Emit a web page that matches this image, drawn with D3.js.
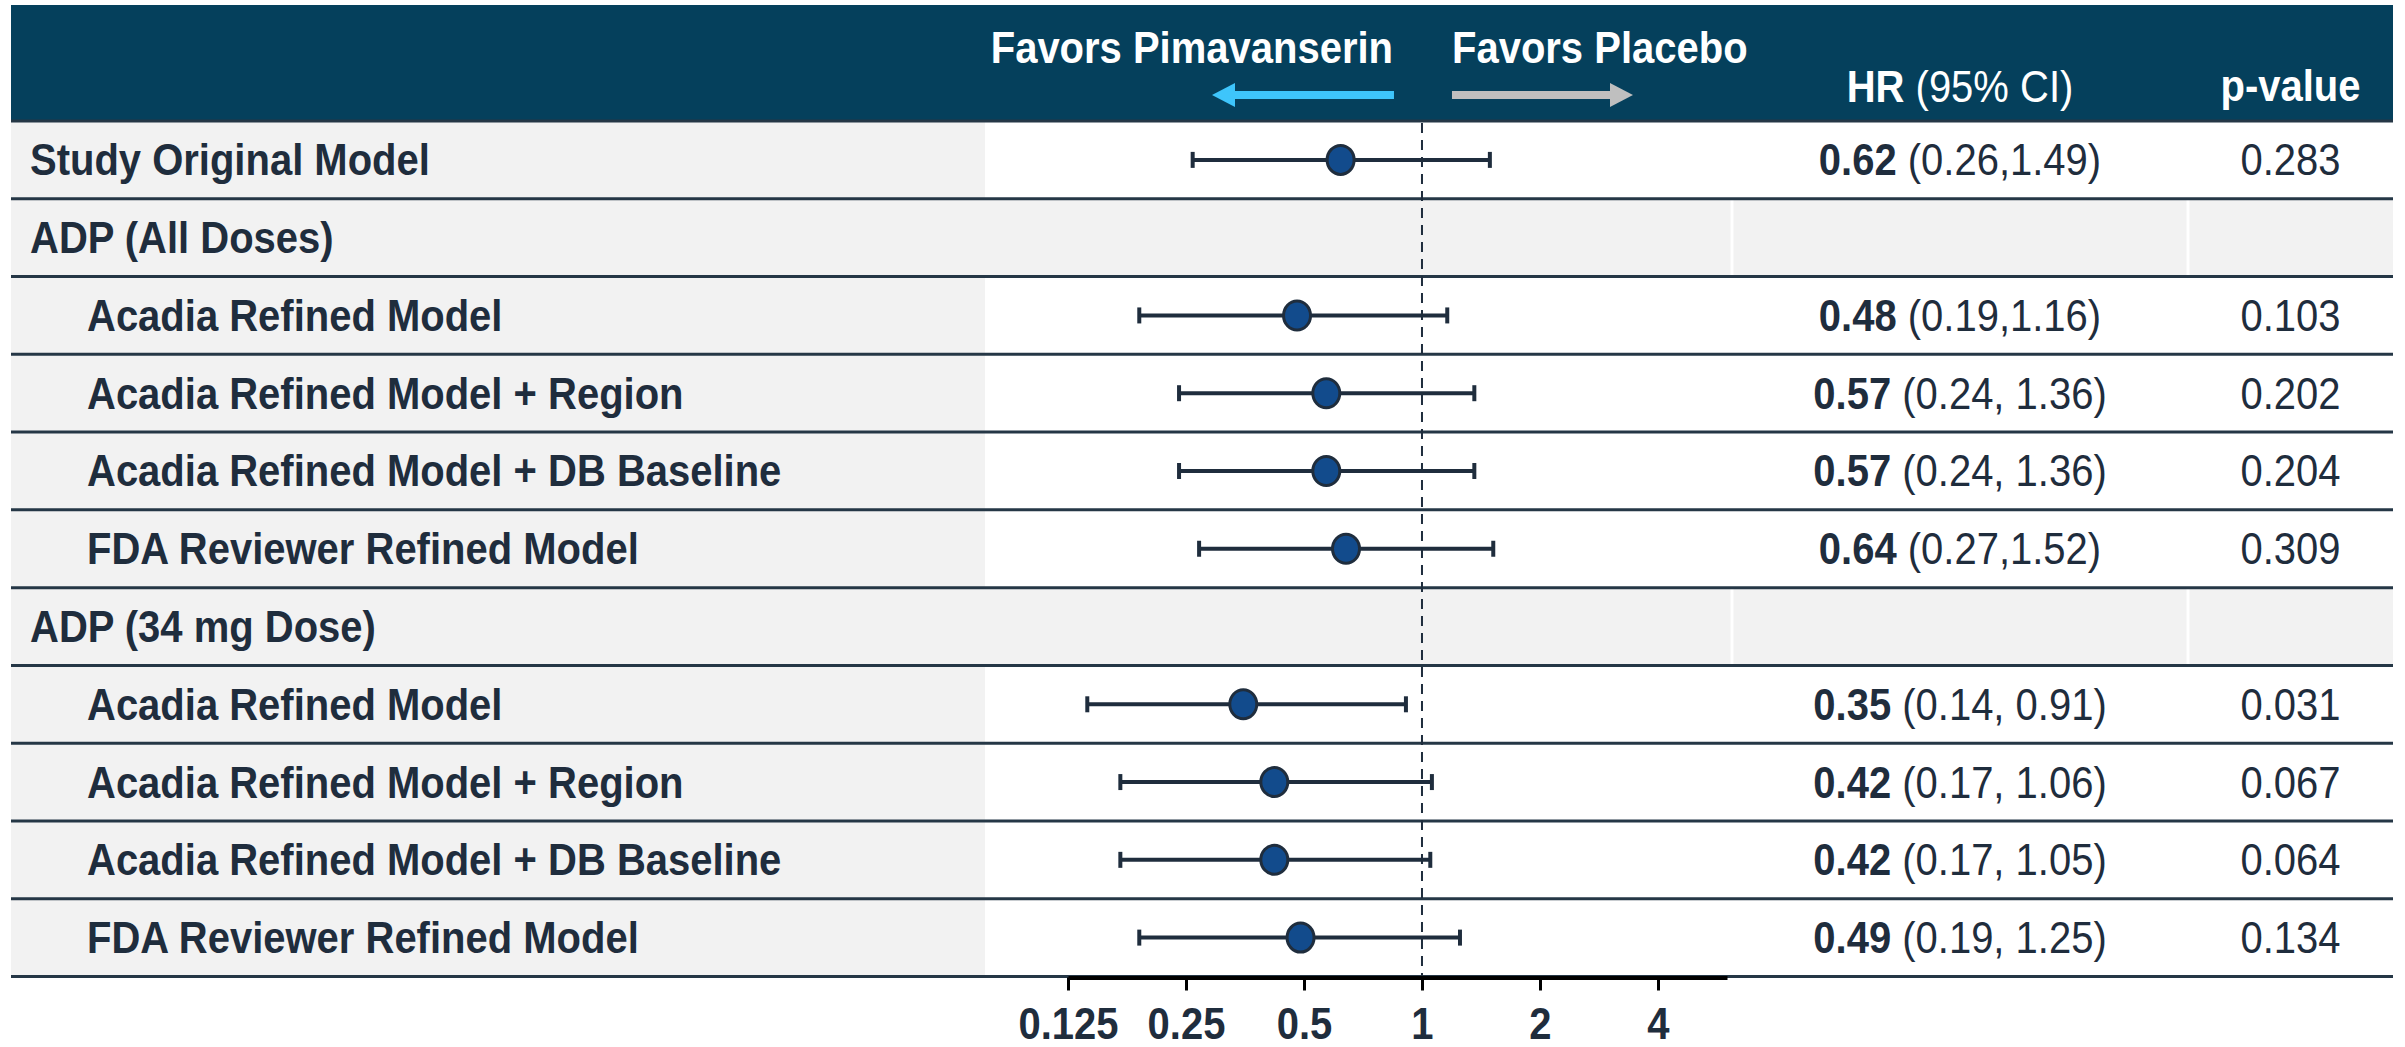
<!DOCTYPE html>
<html>
<head>
<meta charset="utf-8">
<script src="https://cdn.jsdelivr.net/npm/d3@7"></script>
<style>
  html, body { margin: 0; padding: 0; background: #fff; }
  svg { display: block; font-family: "Liberation Sans", Arial, sans-serif; }
</style>
</head>
<body>
<div id="chart"></div>
<script>
// rows of the forest plot, top to bottom
const rowLabels = [
  "Study Original Model",
  "ADP (All Doses)",
  "Acadia Refined Model",
  "Acadia Refined Model + Region",
  "Acadia Refined Model + DB Baseline",
  "FDA Reviewer Refined Model",
  "ADP (34 mg Dose)",
  "Acadia Refined Model",
  "Acadia Refined Model + Region",
  "Acadia Refined Model + DB Baseline",
  "FDA Reviewer Refined Model",
];
// "top" = top-level row, "group" = section header, "sub" = indented model row
const rowKinds = ["top", "group", "sub", "sub", "sub", "sub", "group", "sub", "sub", "sub", "sub"];
const hazardRatios = [0.62, null, 0.48, 0.57, 0.57, 0.64, null, 0.35, 0.42, 0.42, 0.49];
const ciLower = [0.26, null, 0.19, 0.24, 0.24, 0.27, null, 0.14, 0.17, 0.17, 0.19];
const ciUpper = [1.49, null, 1.16, 1.36, 1.36, 1.52, null, 0.91, 1.06, 1.05, 1.25];
const ciLabels = ["(0.26,1.49)", "", "(0.19,1.16)", "(0.24, 1.36)", "(0.24, 1.36)", "(0.27,1.52)", "",
  "(0.14, 0.91)", "(0.17, 1.06)", "(0.17, 1.05)", "(0.19, 1.25)"];
const pValues = ["0.283", "", "0.103", "0.202", "0.204", "0.309", "", "0.031", "0.067", "0.064", "0.134"];
const tickValues = [0.125, 0.25, 0.5, 1, 2, 4];
const tickLabels = ["0.125", "0.25", "0.5", "1", "2", "4"];

const WIDTH = 2405;
const HEIGHT = 1047;
const TEXT = "#1f2d3d";
const HEADER_BG = "#05405c";
const ROW_GRAY = "#f2f2f2";
const LINE = "#253746";
const STRETCH = 1.1; // source text is slightly taller than plain Arial

const cols = { left: 11, plot: 985, hr: 1732, p: 2188, right: 2393 };
const headerTop = 5;
const headerBottom = 121;
const tableBottom = 976.5;

const rows = rowLabels.map((label, i) => ({
  label,
  kind: rowKinds[i],
  hr: hazardRatios[i],
  lo: ciLower[i],
  hi: ciUpper[i],
  ci: ciLabels[i],
  p: pValues[i],
}));

const svg = d3.select("#chart").append("svg")
  .attr("width", WIDTH)
  .attr("height", HEIGHT)
  .attr("viewBox", `0 0 ${WIDTH} ${HEIGHT}`);

function placeText(sel, px, py) {
  return sel.attr("transform", `translate(${px},${py}) scale(1,${STRETCH})`);
}

const y = d3.scaleBand()
  .domain(d3.range(rows.length))
  .range([headerBottom, tableBottom])
  .paddingInner(0)
  .paddingOuter(0);

const x = d3.scaleLog()
  .base(2)
  .domain([0.125, 6])
  .range([1068, 1727]);

// header band
svg.append("rect")
  .attr("x", cols.left)
  .attr("y", headerTop)
  .attr("width", cols.right - cols.left)
  .attr("height", headerBottom - headerTop)
  .attr("fill", HEADER_BG);

// row backgrounds
const rowG = svg.append("g").attr("class", "rows");
rows.forEach((row, i) => {
  const top = y(i);
  const h = y.bandwidth();
  if (row.kind === "group") {
    rowG.append("rect").attr("x", cols.left).attr("y", top).attr("width", cols.right - cols.left).attr("height", h).attr("fill", ROW_GRAY);
    [cols.hr, cols.p].forEach((cx) => {
      rowG.append("line").attr("x1", cx).attr("x2", cx).attr("y1", top).attr("y2", top + h)
        .attr("stroke", "#fff").attr("stroke-width", 3);
    });
  } else {
    rowG.append("rect").attr("x", cols.left).attr("y", top).attr("width", cols.plot - cols.left).attr("height", h).attr("fill", ROW_GRAY);
  }
});

// row separators
svg.append("g")
  .selectAll("line")
  .data(d3.range(rows.length + 1))
  .join("line")
  .attr("x1", cols.left)
  .attr("x2", cols.right)
  .attr("y1", (i) => headerBottom + i * y.bandwidth())
  .attr("y2", (i) => headerBottom + i * y.bandwidth())
  .attr("stroke", LINE)
  .attr("stroke-width", 3);

// reference line at HR = 1
svg.append("line")
  .attr("x1", x(1)).attr("x2", x(1))
  .attr("y1", headerBottom + 2).attr("y2", tableBottom + 12)
  .attr("stroke", TEXT)
  .attr("stroke-width", 2)
  .attr("stroke-dasharray", "10,7");

// axis
const axis = svg.append("g")
  .attr("transform", `translate(0,${tableBottom + 1})`)
  .call(d3.axisBottom(x).tickValues(tickValues).tickFormat((d, i) => tickLabels[i]).tickSize(13).tickSizeOuter(0));
axis.select(".domain").attr("stroke", "#000").attr("stroke-width", 4);
axis.selectAll(".tick line").attr("stroke", "#000").attr("stroke-width", 3);
axis.selectAll(".tick text")
  .attr("fill", TEXT)
  .attr("font-size", 40)
  .attr("font-weight", "bold")
  .attr("font-family", "'Liberation Sans', Arial, sans-serif")
  .attr("dy", null)
  .attr("y", 0)
  .attr("transform", `translate(0,61) scale(1,${STRETCH})`);

// header texts
const headerText = svg.append("g").attr("fill", "#fff").attr("font-size", 40);
placeText(headerText.append("text"), x(1) - 29, 63).attr("text-anchor", "end").attr("font-weight", "bold").text("Favors Pimavanserin");
placeText(headerText.append("text"), x(1) + 30, 63).attr("text-anchor", "start").attr("font-weight", "bold").text("Favors Placebo");
const hrHead = placeText(headerText.append("text"), (cols.hr + cols.p) / 2, 102).attr("text-anchor", "middle");
hrHead.append("tspan").attr("font-weight", "bold").text("HR");
hrHead.append("tspan").text(" (95% CI)");
placeText(headerText.append("text"), (cols.p + cols.right) / 2, 101).attr("text-anchor", "middle").attr("font-weight", "bold").text("p-value");

// direction arrows
const arrowY = 95;
svg.append("line").attr("x1", x(1) - 28).attr("x2", x(1) - 195).attr("y1", arrowY).attr("y2", arrowY)
  .attr("stroke", "#3ec5fb").attr("stroke-width", 8);
svg.append("path")
  .attr("d", `M${x(1) - 210},${arrowY} L${x(1) - 187},${arrowY - 12} L${x(1) - 187},${arrowY + 12} Z`)
  .attr("fill", "#3ec5fb");
svg.append("line").attr("x1", x(1) + 30).attr("x2", x(1) + 195).attr("y1", arrowY).attr("y2", arrowY)
  .attr("stroke", "#bfbfbf").attr("stroke-width", 8);
svg.append("path")
  .attr("d", `M${x(1) + 211},${arrowY} L${x(1) + 188},${arrowY - 12} L${x(1) + 188},${arrowY + 12} Z`)
  .attr("fill", "#bfbfbf");

// row labels and values
const textG = svg.append("g").attr("fill", TEXT).attr("font-size", 40);
rows.forEach((row, i) => {
  const baseY = y(i) + y.bandwidth() / 2 + 15.5;
  placeText(textG.append("text"), row.kind === "sub" ? 87 : 30, baseY)
    .attr("font-weight", "bold")
    .text(row.label);
  if (row.hr == null) return;
  const hrText = placeText(textG.append("text"), (cols.hr + cols.p) / 2, baseY).attr("text-anchor", "middle");
  hrText.append("tspan").attr("font-weight", "bold").text(row.hr.toFixed(2));
  hrText.append("tspan").text(" " + row.ci);
  placeText(textG.append("text"), (cols.p + cols.right) / 2, baseY).attr("text-anchor", "middle").text(row.p);
});

// confidence intervals and point estimates
const marks = svg.append("g");
const estRows = rows.map((row, i) => ({ ...row, i })).filter((row) => row.hr != null);
marks.selectAll("line.ci")
  .data(estRows)
  .join("line")
  .attr("class", "ci")
  .attr("x1", (d) => x(d.lo)).attr("x2", (d) => x(d.hi))
  .attr("y1", (d) => y(d.i) + y.bandwidth() / 2).attr("y2", (d) => y(d.i) + y.bandwidth() / 2)
  .attr("stroke", TEXT).attr("stroke-width", 4);
["lo", "hi"].forEach((key) => {
  marks.selectAll(`line.cap-${key}`)
    .data(estRows)
    .join("line")
    .attr("class", `cap-${key}`)
    .attr("x1", (d) => x(d[key])).attr("x2", (d) => x(d[key]))
    .attr("y1", (d) => y(d.i) + y.bandwidth() / 2 - 8).attr("y2", (d) => y(d.i) + y.bandwidth() / 2 + 8)
    .attr("stroke", TEXT).attr("stroke-width", 4);
});
marks.selectAll("ellipse")
  .data(estRows)
  .join("ellipse")
  .attr("cx", (d) => x(d.hr))
  .attr("cy", (d) => y(d.i) + y.bandwidth() / 2)
  .attr("rx", 13.5)
  .attr("ry", 14.5)
  .attr("fill", "#124b8c")
  .attr("stroke", TEXT)
  .attr("stroke-width", 3);
</script>
</body>
</html>
